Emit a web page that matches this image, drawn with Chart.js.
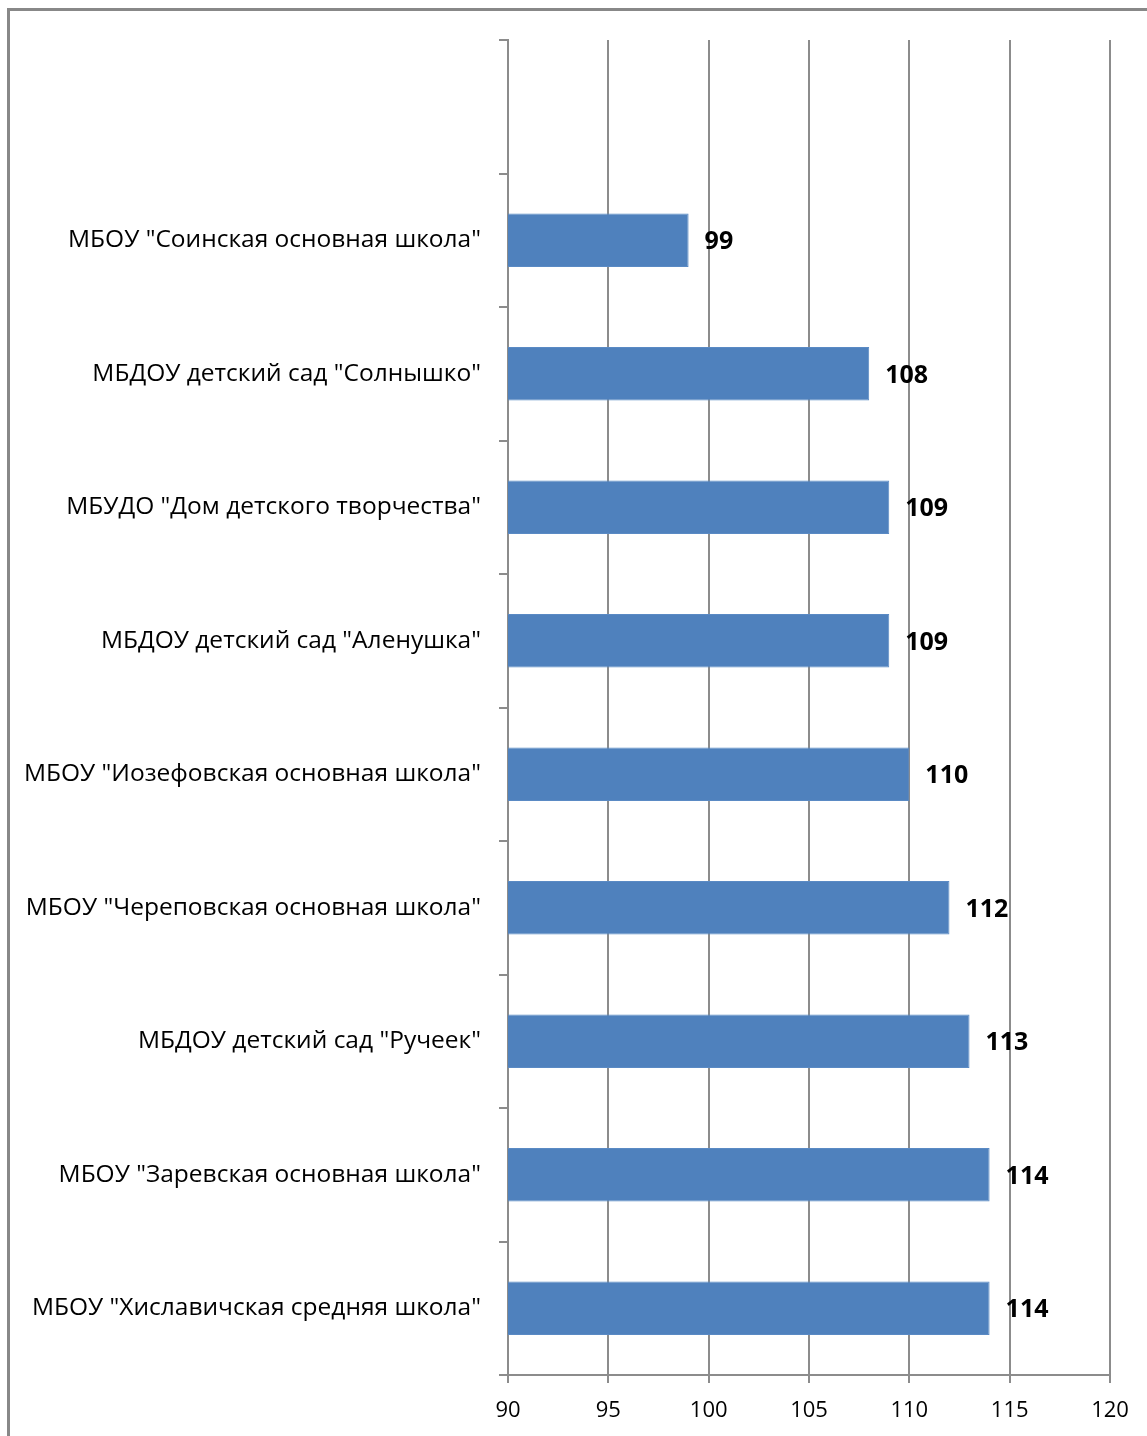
<!DOCTYPE html>
<html>
<head>
<meta charset="utf-8">
<script src="https://cdn.jsdelivr.net/npm/chart.js@4/dist/chart.umd.min.js"></script>
<style>
  html, body { margin: 0; padding: 0; background: #fff; overflow: hidden; }
  #wrap { width: 1147px; height: 1436px; position: relative; }
</style>
</head>
<body>
<div id="wrap"><canvas id="chart"></canvas></div>
<script>
// Categories, top to bottom (first slot is empty in the original)
const categories = [
    '',
    'МБОУ "Соинская основная школа"',
    'МБДОУ детский сад "Солнышко"',
    'МБУДО "Дом детского творчества"',
    'МБДОУ детский сад "Аленушка"',
    'МБОУ "Иозефовская основная школа"',
    'МБОУ "Череповская основная школа"',
    'МБДОУ детский сад "Ручеек"',
    'МБОУ "Заревская основная школа"',
    'МБОУ "Хиславичская средняя школа"'
];
const values = [null, 99, 108, 109, 109, 110, 112, 113, 114, 114];
const xMin = 90;
const xMax = 120;
const xStep = 5;

const FONT = '"Open Sans", "Noto Sans", sans-serif';
const GRID = '#8c8c8c';

// Frame around the chart
const framePlugin = {
    id: 'frame',
    beforeDraw(chart) {
        const ctx = chart.ctx;
        ctx.save();
        ctx.strokeStyle = '#888888';
        ctx.lineWidth = 3;
        ctx.strokeRect(8.5, 9.5, 1200, 1500);
        ctx.restore();
    }
};

// Value labels to the right of bars
const valueLabels = {
    id: 'valueLabels',
    afterDatasetsDraw(chart) {
        const ctx = chart.ctx;
        const meta = chart.getDatasetMeta(0);
        ctx.save();
        ctx.font = 'bold 25px ' + FONT;
        ctx.fillStyle = '#000';
        ctx.textAlign = 'left';
        ctx.textBaseline = 'middle';
        meta.data.forEach((bar, i) => {
            if (values[i] == null) return;
            ctx.fillText(String(values[i]), bar.x + 16, bar.y + 2);
        });
        ctx.restore();
    }
};

new Chart(document.getElementById('chart'), {
    type: 'bar',
    data: {
        labels: categories,
        datasets: [{
            data: values,
            backgroundColor: '#4f81bd',
            borderColor: '#5a8ac4',
            borderWidth: 1,
            barPercentage: 0.4,
            categoryPercentage: 1.0
        }]
    },
    options: {
        indexAxis: 'y',
        responsive: true,
        maintainAspectRatio: false,
        animation: false,
        layout: { padding: { top: 40, right: 37, left: 0, bottom: 0 } },
        plugins: {
            legend: { display: false },
            tooltip: { enabled: false }
        },
        scales: {
            x: {
                min: xMin,
                max: xMax,
                ticks: {
                    stepSize: xStep,
                    color: '#000',
                    font: { family: FONT, size: 22 },
                    padding: 15
                },
                grid: {
                    color: GRID,
                    lineWidth: 2,
                    tickLength: 8,
                    drawTicks: true
                },
                border: { color: GRID, width: 2 },
                afterFit(scale) { scale.height = 61; }
            },
            y: {
                ticks: {
                    color: '#000',
                    font: { family: FONT, size: 24.5 },
                    padding: 18,
                    autoSkip: false
                },
                grid: {
                    color: GRID,
                    lineWidth: 2,
                    tickLength: 9,
                    drawOnChartArea: false,
                    offset: true
                },
                border: { color: GRID, width: 2 },
                afterFit(scale) { scale.width = 508; }
            }
        }
    },
    plugins: [framePlugin, valueLabels]
});
</script>
</body>
</html>
